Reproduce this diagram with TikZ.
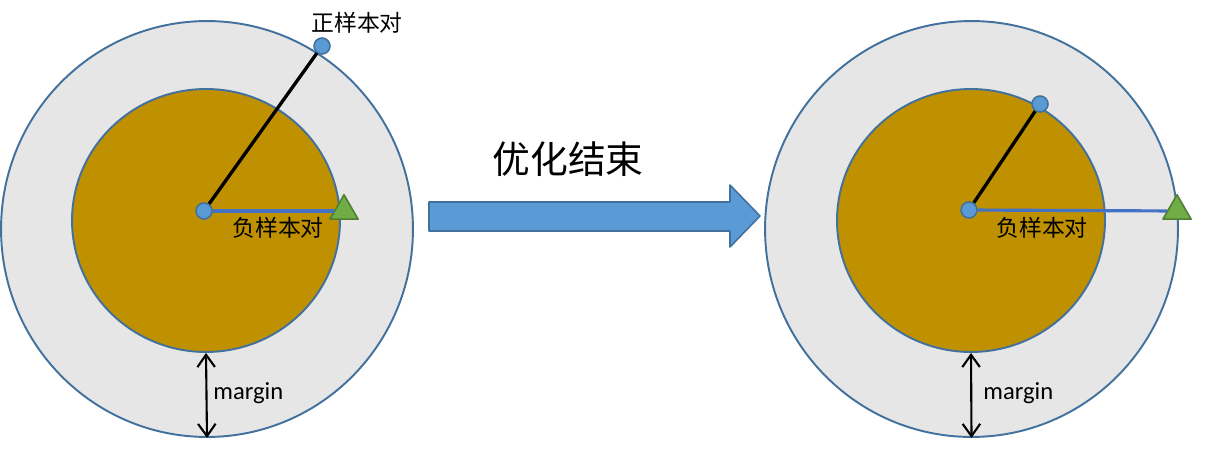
\documentclass[tikz,border=0pt]{standalone}
\usepackage{fontspec}
\setmainfont{Carlito}
\newfontfamily\cjk{Noto Sans CJK SC}
\usetikzlibrary{shapes.geometric,arrows.meta}

\definecolor{ringfill}{HTML}{E6E6E6}
\definecolor{ringline}{HTML}{41719C}
\definecolor{corefill}{HTML}{BF9000}
\definecolor{dotfill}{HTML}{5B9BD5}
\definecolor{negline}{HTML}{4472C4}
\definecolor{trifill}{HTML}{70AD47}
\definecolor{triline}{HTML}{507E32}

\begin{document}
\begin{tikzpicture}[x=0.02cm,y=-0.02cm,line cap=round,line join=round,
  outer/.style={ellipse,draw=ringline,fill=ringfill,line width=1.1pt,inner sep=0pt,
    minimum width=8.24cm,minimum height=8.32cm},
  inner/.style={ellipse,draw=ringline,fill=corefill,line width=1.1pt,inner sep=0pt,
    minimum width=5.36cm,minimum height=5.26cm},
  sample/.style={circle,draw=ringline,fill=dotfill,line width=0.9pt,inner sep=0pt,
    minimum size=0.32cm},
  negsample/.style={regular polygon,regular polygon sides=3,draw=triline,fill=trifill,
    line width=0.9pt,inner sep=0pt,minimum size=0.65cm},
  poslink/.style={line width=1.9pt,black,line cap=butt},
  neglink/.style={line width=1.8pt,negline,line cap=butt},
  gap/.style={line width=1.2pt,{Straight Barb[length=7pt,width=10pt]}-{Straight Barb[length=7pt,width=10pt]}},
  pairlabel/.style={font=\cjk\fontsize{13}{15}\selectfont},
  gaplabel/.style={font=\fontsize{14}{16}\selectfont,anchor=west,inner sep=0pt}]
  \useasboundingbox (0,0) rectangle (1229,450);
  % before optimisation
  \node[outer] (oL) at (207,229) {};
  \node[inner] (iL) at (206,220.5) {};
  \node[sample] (aL) at (204,211) {};
  \node[sample] (pL) at (322,46) {};
  \node[negsample] (nL) at (344,211) {};
  \draw[poslink] (aL) -- (pL);
  \draw[neglink] (aL) -- (nL);
  \node[pairlabel] (tpL) at (357,23) {正样本对};
  \node[pairlabel] (tnL) at (278,228) {负样本对};
  \draw[gap] (iL.south) -- (oL.south);
  \node[gaplabel] (mL) at (213,393) {margin};
  % big arrow
  \draw[ringline,fill=dotfill,line width=0.9pt]
    (429,202) -- (730,202) -- (730,185) -- (760,216) -- (730,247) -- (730,231) -- (429,231) -- cycle;
  \node[font=\cjk\fontsize{21.5}{24}\selectfont] (done) at (568,159) {优化结束};
  % after optimisation
  \node[outer,minimum width=8.26cm] (oR) at (971.5,229) {};
  \node[inner] (iR) at (971,220.5) {};
  \node[sample] (aR) at (969,210) {};
  \node[sample] (pR) at (1040,104) {};
  \node[negsample] (nR) at (1177,211) {};
  \draw[poslink] (aR) -- (pR);
  \draw[neglink] (aR) -- (nR);
  \node[pairlabel] (tnR) at (1042,228) {负样本对};
  \draw[gap] (iR.south) -- (oR.south);
  \node[gaplabel] (mR) at (983,393) {margin};
\end{tikzpicture}
\end{document}
